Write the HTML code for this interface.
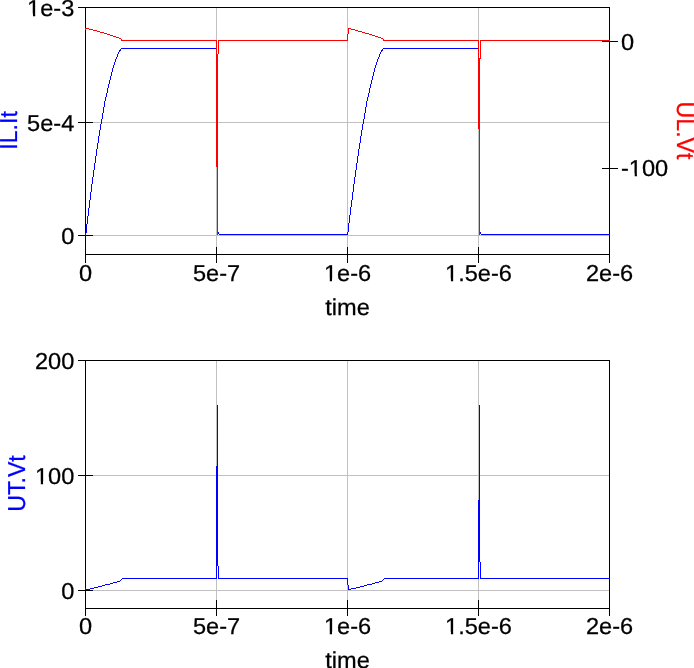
<!DOCTYPE html>
<html><head><meta charset="utf-8"><title>plot</title>
<style>html,body{margin:0;padding:0;background:#fff;width:694px;height:668px;overflow:hidden}svg{display:block}</style>
</head><body>
<svg width="694" height="668" viewBox="0 0 694 668">
<path d="M216.5,8 V254 M216.5,361 V608 M347.5,8 V254 M347.5,361 V608 M478.5,8 V254 M478.5,361 V608 M86,122.5 H609 M86,235.5 H609 M86,475.5 H609 M86,590.5 H609" stroke="#c0c0c0" stroke-width="1" fill="none" shape-rendering="crispEdges"/>
<path d="M85.5,7.5 H609.5 V254.5 H85.5 Z M85.5,360.5 H609.5 V608.5 H85.5 Z M78,7.5 H93 M78,122.5 H93 M78,235.5 H93 M78,360.5 H93 M78,475.5 H93 M78,590.5 H93 M602,41.5 H618 M602,168.5 H618 M85.5,247 V263 M85.5,600 V616 M216.5,247 V263 M216.5,600 V616 M347.5,247 V263 M347.5,600 V616 M478.5,247 V263 M478.5,600 V616 M609.5,247 V263 M609.5,600 V616" stroke="#000" stroke-width="1" fill="none" shape-rendering="crispEdges"/>
<path d="M85.5,233 V236 M86.5,224 V233 M87.5,216 V224 M88.5,208 V216 M89.5,200 V208 M90.5,199.5 L90.5,196.0 L91.5,188.0 L92.5,180.5 L93.5,173.5 L94.5,166.5 L95.5,159.7 L96.5,152.5 L97.5,146.0 L98.5,139.5 L99.5,133.0 L100.5,127.0 L101.5,122.0 L102.5,117.0 L103.5,110.0 L105.0,101.4 L106.9,93.2 L108.5,86.0 L110.5,78.0 L112.5,70.0 L114.5,63.5 L116.5,58.0 L118.5,53.0 L120.5,49.7 L121.5,48.5 M121,48.5 H217 M216.5,48 V142 M217.5,141 V235 M218.5,232 V234 M219,234.5 H348 M347.5,232 V235 M348.5,223 V232 M349.5,215 V223 M350.5,207 V215 M351.5,200 V207 M352.5,199.5 L352.5,196.0 L353.5,188.0 L354.5,180.5 L355.5,173.5 L356.5,166.5 L357.5,159.7 L358.5,152.5 L359.5,146.0 L360.5,139.5 L361.5,133.0 L362.5,127.0 L363.5,122.0 L364.5,117.0 L365.5,110.0 L367.0,101.4 L368.9,93.2 L370.5,86.0 L372.5,78.0 L374.5,70.0 L376.5,63.5 L378.5,58.0 L380.5,53.0 L382.5,49.7 L383.5,48.5 M383,48.5 H479 M478.5,48 V129 M479.5,128 V235 M480.5,232 V234 M481,234.5 H610" stroke="#0000ff" stroke-width="1" fill="none" shape-rendering="crispEdges"/>
<path d="M85.5,28 V30 M85,28.5 H89 M89,29.5 H93 M93,30.5 H97 M97,31.5 H100 M100,32.5 H104 M104,33.5 H107 M107,34.5 H110 M110,35.5 H113 M113,36.5 H116 M116,37.5 H119 M119,38.5 H121 M121,39.5 H122 M121,40.5 H217 M216.5,40 V167 M217.5,54 V235 M218.5,40 V54 M218,40.5 H348 M347.5,34 V41 M348.5,28 V34 M348,28.5 H351 M351,29.5 H355 M355,30.5 H358 M358,31.5 H362 M362,32.5 H365 M365,33.5 H369 M369,34.5 H372 M372,35.5 H375 M375,36.5 H378 M378,37.5 H381 M381,38.5 H383 M383,39.5 H384 M383,40.5 H479 M478.5,40 V129 M479.5,58 V235 M480.5,40 V59 M480,40.5 H610" stroke="#ff0000" stroke-width="1" fill="none" shape-rendering="crispEdges"/>
<path d="M85.5,588 V589 M85,589.5 H90 M90,588.5 H94 M94,587.5 H98 M98,586.5 H102 M102,585.5 H105 M105,584.5 H110 M110,583.5 H113 M113,582.5 H117 M117,581.5 H120 M120,580.5 H121 M121,579.5 H122 M122,578.5 H217 M216.5,466 V579 M217.5,405 V566 M218.5,566 V579 M218,578.5 H348 M347.5,578 V585 M348.5,585 V590 M348,589.5 H351 M351,588.5 H356 M356,587.5 H360 M360,586.5 H364 M364,585.5 H367 M367,584.5 H372 M372,583.5 H375 M375,582.5 H379 M379,581.5 H382 M382,580.5 H383 M383,579.5 H384 M384,578.5 H479 M478.5,500 V579 M479.5,405 V562 M480.5,562 V579 M480,578.5 H610" stroke="#0000ff" stroke-width="1" fill="none" shape-rendering="crispEdges"/>
<g font-family="&quot;Liberation Sans&quot;, Arial, Helvetica, sans-serif" font-size="23" letter-spacing="0" stroke-width="0.25" text-rendering="geometricPrecision"><text transform="translate(74.3,16) scale(1.025,1)" text-anchor="end" fill="#000" stroke="#000" >1e-3</text><text transform="translate(74.3,131) scale(1.025,1)" text-anchor="end" fill="#000" stroke="#000" >5e-4</text><text transform="translate(74.3,244) scale(1.025,1)" text-anchor="end" fill="#000" stroke="#000" >0</text><text transform="translate(74.3,369) scale(1.025,1)" text-anchor="end" fill="#000" stroke="#000" >200</text><text transform="translate(74.3,484) scale(1.025,1)" text-anchor="end" fill="#000" stroke="#000" >100</text><text transform="translate(74.3,599) scale(1.025,1)" text-anchor="end" fill="#000" stroke="#000" >0</text><text transform="translate(621,50) scale(1.025,1)" text-anchor="start" fill="#000" stroke="#000" >0</text><text transform="translate(621,176) scale(1.025,1)" text-anchor="start" fill="#000" stroke="#000" >-100</text><text transform="translate(85.5,281) scale(1.025,1)" text-anchor="middle" fill="#000" stroke="#000" >0</text><text transform="translate(85.5,634) scale(1.025,1)" text-anchor="middle" fill="#000" stroke="#000" >0</text><text transform="translate(216.5,281) scale(1.025,1)" text-anchor="middle" fill="#000" stroke="#000" >5e-7</text><text transform="translate(216.5,634) scale(1.025,1)" text-anchor="middle" fill="#000" stroke="#000" >5e-7</text><text transform="translate(347.5,281) scale(1.025,1)" text-anchor="middle" fill="#000" stroke="#000" >1e-6</text><text transform="translate(347.5,634) scale(1.025,1)" text-anchor="middle" fill="#000" stroke="#000" >1e-6</text><text transform="translate(478.5,281) scale(1.025,1)" text-anchor="middle" fill="#000" stroke="#000" >1.5e-6</text><text transform="translate(478.5,634) scale(1.025,1)" text-anchor="middle" fill="#000" stroke="#000" >1.5e-6</text><text transform="translate(609.5,281) scale(1.025,1)" text-anchor="middle" fill="#000" stroke="#000" >2e-6</text><text transform="translate(609.5,634) scale(1.025,1)" text-anchor="middle" fill="#000" stroke="#000" >2e-6</text><text transform="translate(347.5,315) scale(1.025,1)" text-anchor="middle" fill="#000" stroke="#000" >time</text><text transform="translate(347.5,668) scale(1.025,1)" text-anchor="middle" fill="#000" stroke="#000" >time</text><text transform="translate(16.6,130.5) rotate(-90) scale(0.945,1)" font-size="24.5" text-anchor="middle" fill="#0000ff" stroke="#0000ff">IL.It</text><text transform="translate(24.6,483.5) rotate(-90) scale(0.945,1)" font-size="24.5" text-anchor="middle" fill="#0000ff" stroke="#0000ff">UT.Vt</text><text transform="translate(677.4,130.5) rotate(90) scale(0.945,1)" font-size="24.5" text-anchor="middle" fill="#ff0000" stroke="#ff0000">UL.Vt</text></g>
<rect x="28.04" y="13.60" width="4.93" height="3.7" fill="#fff"/><rect x="35.21" y="13.60" width="4.80" height="3.7" fill="#fff"/><rect x="35.89" y="481.60" width="4.93" height="3.7" fill="#fff"/><rect x="43.06" y="481.60" width="4.80" height="3.7" fill="#fff"/><rect x="629.77" y="173.60" width="4.93" height="3.7" fill="#fff"/><rect x="636.94" y="173.60" width="4.80" height="3.7" fill="#fff"/><rect x="324.83" y="278.60" width="4.93" height="3.7" fill="#fff"/><rect x="332.00" y="278.60" width="4.80" height="3.7" fill="#fff"/><rect x="324.83" y="631.60" width="4.93" height="3.7" fill="#fff"/><rect x="332.00" y="631.60" width="4.80" height="3.7" fill="#fff"/><rect x="446.00" y="278.60" width="4.93" height="3.7" fill="#fff"/><rect x="453.17" y="278.60" width="4.80" height="3.7" fill="#fff"/><rect x="446.00" y="631.60" width="4.93" height="3.7" fill="#fff"/><rect x="453.17" y="631.60" width="4.80" height="3.7" fill="#fff"/>
</svg>
</body></html>
